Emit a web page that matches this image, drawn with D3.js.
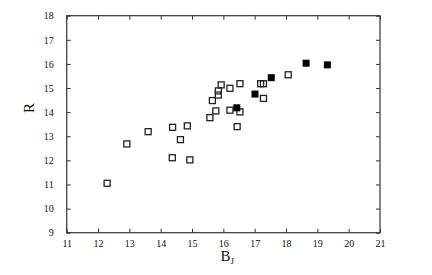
<!DOCTYPE html>
<html>
<head>
<meta charset="utf-8">
<script src="https://cdn.jsdelivr.net/npm/d3@7"></script>
<style>
  body { margin: 0; background: #fff; }
  text { font-family: "Liberation Serif", "DejaVu Serif", serif; fill: #111; }
</style>
</head>
<body>
<div id="chart"></div>
<script>
// open squares
var openBJ = [12.29, 12.92, 13.60, 14.38, 14.37, 14.85, 14.63, 14.93, 15.57, 15.65,
              15.76, 15.84, 15.84, 15.93, 16.21, 16.53, 16.21, 16.53, 16.44, 17.19,
              17.28, 17.28, 18.07];
var openR  = [11.05, 12.68, 13.19, 13.37, 12.11, 13.43, 12.86, 12.02, 13.77, 14.48,
              14.05, 14.71, 14.88, 15.13, 14.99, 15.18, 14.08, 14.01, 13.40, 15.18,
              15.18, 14.57, 15.55];
// filled squares
var fillBJ = [16.43, 17.01, 17.53, 18.64, 19.32];
var fillR  = [14.18, 14.75, 15.43, 16.03, 15.96];

var xTicks = [11, 12, 13, 14, 15, 16, 17, 18, 19, 20, 21];
var yTicks = [9, 10, 11, 12, 13, 14, 15, 16, 17, 18];

var width = 432, height = 275;
var margin = {left: 66.7, right: 52, top: 15.7, bottom: 42.3};

var svg = d3.select('#chart').append('svg')
    .attr('width', width)
    .attr('height', height);

var x = d3.scaleLinear().domain([11, 21]).range([margin.left, width - margin.right]);
var y = d3.scaleLinear().domain([9, 18]).range([height - margin.bottom, margin.top]);

var x0 = x.range()[0], x1 = x.range()[1];
var y0 = y.range()[0], y1 = y.range()[1];

function styleAxis(g) {
  g.select('.domain').remove();
  g.selectAll('.tick line').attr('stroke', '#333').attr('stroke-width', 1);
}

// bottom axis, labels and ticks pointing in
svg.append('g')
    .attr('transform', 'translate(0,' + y0 + ')')
    .call(d3.axisBottom(x).tickValues(xTicks).tickSize(-4).tickPadding(7).tickFormat(d3.format('d')))
    .call(styleAxis)
    .selectAll('text').attr('font-size', 10).attr('font-family', '"Liberation Serif", serif').attr('fill', '#111');

// top axis, ticks only
svg.append('g')
    .attr('transform', 'translate(0,' + y1 + ')')
    .call(d3.axisTop(x).tickValues(xTicks).tickSize(-4).tickFormat(''))
    .call(styleAxis);

// left axis
svg.append('g')
    .attr('transform', 'translate(' + x0 + ',0)')
    .call(d3.axisLeft(y).tickValues(yTicks).tickSize(-4).tickPadding(13).tickFormat(d3.format('d')))
    .call(styleAxis)
    .selectAll('text').attr('font-size', 10).attr('font-family', '"Liberation Serif", serif').attr('fill', '#111');

// right axis, ticks only
svg.append('g')
    .attr('transform', 'translate(' + x1 + ',0)')
    .call(d3.axisRight(y).tickValues(yTicks).tickSize(-4).tickFormat(''))
    .call(styleAxis);

// frame
svg.append('rect')
    .attr('x', x0).attr('y', y1)
    .attr('width', x1 - x0).attr('height', y0 - y1)
    .attr('fill', 'none')
    .attr('stroke', '#333')
    .attr('stroke-width', 1.2);

var s = 6;

svg.append('g').selectAll('rect')
    .data(d3.range(openBJ.length))
    .join('rect')
    .attr('x', function (i) { return x(openBJ[i]) - s / 2; })
    .attr('y', function (i) { return y(openR[i]) - s / 2; })
    .attr('width', s).attr('height', s)
    .attr('fill', 'none')
    .attr('stroke', '#222')
    .attr('stroke-width', 1.3);

svg.append('g').selectAll('rect')
    .data(d3.range(fillBJ.length))
    .join('rect')
    .attr('x', function (i) { return x(fillBJ[i]) - (s + 1) / 2; })
    .attr('y', function (i) { return y(fillR[i]) - (s + 1) / 2; })
    .attr('width', s + 1).attr('height', s + 1)
    .attr('fill', '#000');

// axis titles
svg.append('text')
    .attr('transform', 'translate(34,108) rotate(-90)')
    .attr('text-anchor', 'middle')
    .attr('font-size', 15)
    .text('R');

var xt = svg.append('text')
    .attr('x', (x0 + x1) / 2 + 4)
    .attr('y', 261)
    .attr('text-anchor', 'middle')
    .attr('font-size', 15);
xt.append('tspan').text('B');
xt.append('tspan').attr('font-size', 9).attr('dy', 3).text('J');
</script>
</body>
</html>
